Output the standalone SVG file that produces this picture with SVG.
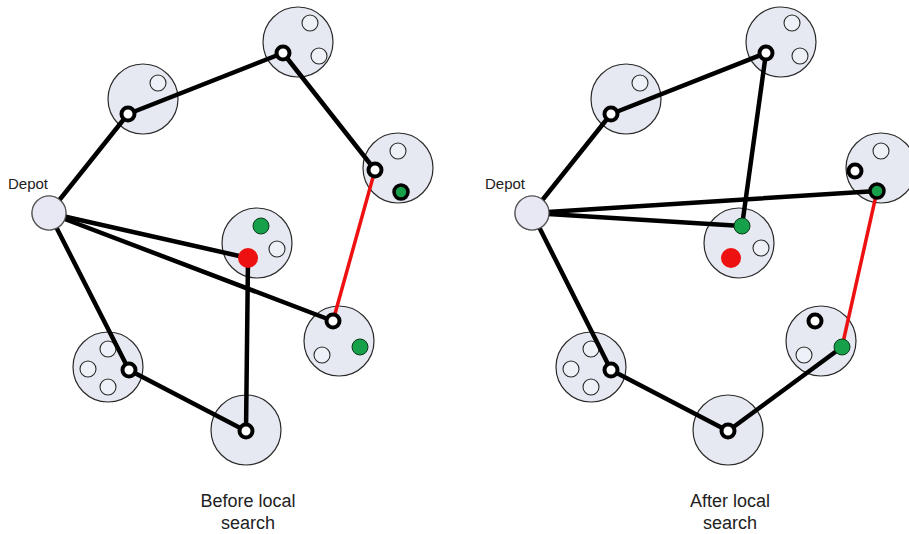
<svg xmlns="http://www.w3.org/2000/svg" width="909" height="534" viewBox="0 0 909 534">
  <style>
    .zone { fill: #e6e9f1; stroke: #2a2a2a; stroke-width: 1.2; }
    .slot { fill: #eef1f7; stroke: #2a2a2a; stroke-width: 1.1; }
    .stop { fill: #ffffff; stroke: #000000; stroke-width: 4; }
    .green { fill: #17a04a; stroke: #0b3a1c; stroke-width: 1; }
    .greenstop { fill: #17a04a; stroke: #000000; stroke-width: 3.5; }
    .red { fill: #ee1111; }
    .depot { fill: #e8e8f4; stroke: #555; stroke-width: 1.2; }
    .route { stroke: #000000; stroke-width: 4.5; stroke-linecap: round; fill: none; }
    .swap { stroke: #ee1111; stroke-width: 3.5; stroke-linecap: round; fill: none; }
    .lbl { font-family: "Liberation Sans", Arial, sans-serif; fill: #222; }
  </style>
  <rect width="909" height="534" fill="#ffffff"/>

  <!-- ===== Left panel: before local search ===== -->
  <g id="left-zones">
    <g id="L-depot"><circle class="depot" cx="49" cy="213" r="17"/><text class="lbl" x="8" y="189" font-size="15">Depot</text></g>
    <g id="L-A"><circle class="zone" cx="143" cy="99" r="35"/><circle class="slot" cx="158" cy="83" r="8"/></g>
    <g id="L-B"><circle class="zone" cx="298" cy="42" r="35"/><circle class="slot" cx="310" cy="23" r="8"/><circle class="slot" cx="319" cy="56" r="8"/></g>
    <g id="L-C"><circle class="zone" cx="398" cy="168" r="35"/><circle class="slot" cx="398" cy="151" r="8"/></g>
    <g id="L-D"><circle class="zone" cx="257" cy="243" r="35"/><circle class="slot" cx="277" cy="249" r="8"/><circle class="green" cx="261" cy="226" r="8"/></g>
    <g id="L-E"><circle class="zone" cx="339" cy="341" r="35"/><circle class="slot" cx="322" cy="355" r="8"/><circle class="green" cx="360" cy="347" r="8"/></g>
    <g id="L-F"><circle class="zone" cx="108" cy="367" r="35"/><circle class="slot" cx="108" cy="349" r="8"/><circle class="slot" cx="88" cy="369" r="8"/><circle class="slot" cx="108" cy="387" r="8"/></g>
    <g id="L-G"><circle class="zone" cx="246" cy="430" r="35"/></g>
  </g>

  <g id="left-connectors">
    <line class="route" x1="49" y1="213" x2="128" y2="114"/>
    <line class="route" x1="128" y1="114" x2="283" y2="53"/>
    <line class="route" x1="283" y1="53" x2="375" y2="170"/>
    <line class="route" x1="49" y1="213" x2="248" y2="258"/>
    <line class="route" x1="49" y1="213" x2="333" y2="321"/>
    <line class="route" x1="248" y1="258" x2="246" y2="431"/>
    <line class="route" x1="49" y1="213" x2="129" y2="370"/>
    <line class="route" x1="129" y1="370" x2="246" y2="431"/>
    <line class="swap" x1="375" y1="170" x2="333" y2="321"/>
  </g>

  <g id="left-stops">
    <circle class="depot" cx="49" cy="213" r="17"/>
    <circle class="stop" cx="128" cy="114" r="6.5"/>
    <circle class="stop" cx="283" cy="53" r="6.5"/>
    <circle class="stop" cx="375" cy="170" r="6.5"/>
    <circle class="greenstop" cx="401" cy="192" r="7"/>
    <circle class="red" cx="248" cy="258" r="10"/>
    <circle class="stop" cx="333" cy="321" r="6.5"/>
    <circle class="stop" cx="129" cy="370" r="6.5"/>
    <circle class="stop" cx="246" cy="431" r="6.5"/>
  </g>

  <g id="left-caption">
    <text class="lbl" x="248" y="507" font-size="18" text-anchor="middle">Before local</text>
    <text class="lbl" x="248" y="529" font-size="18" text-anchor="middle">search</text>
  </g>

  <!-- ===== Right panel: after local search ===== -->
  <g id="right-zones">
    <g id="R-depot"><circle class="depot" cx="532" cy="213" r="17"/><text class="lbl" x="485" y="189" font-size="15">Depot</text></g>
    <g id="R-A"><circle class="zone" cx="626" cy="99" r="35"/><circle class="slot" cx="640" cy="83" r="8"/></g>
    <g id="R-B"><circle class="zone" cx="781" cy="42" r="35"/><circle class="slot" cx="792" cy="23" r="8"/><circle class="slot" cx="800" cy="56" r="8"/></g>
    <g id="R-C"><circle class="zone" cx="881" cy="168" r="35"/><circle class="slot" cx="881" cy="151" r="8"/></g>
    <g id="R-D"><circle class="zone" cx="739" cy="243" r="35"/><circle class="slot" cx="761" cy="248" r="8"/><circle class="red" cx="731" cy="258" r="10"/></g>
    <g id="R-E"><circle class="zone" cx="821" cy="341" r="35"/><circle class="slot" cx="804" cy="355" r="8"/></g>
    <g id="R-F"><circle class="zone" cx="591" cy="367" r="35"/><circle class="slot" cx="591" cy="349" r="8"/><circle class="slot" cx="571" cy="369" r="8"/><circle class="slot" cx="591" cy="387" r="8"/></g>
    <g id="R-G"><circle class="zone" cx="728" cy="430" r="35"/></g>
  </g>

  <g id="right-connectors">
    <line class="route" x1="532" y1="213" x2="611" y2="114"/>
    <line class="route" x1="611" y1="114" x2="766" y2="53"/>
    <line class="route" x1="766" y1="53" x2="742" y2="226"/>
    <line class="route" x1="532" y1="213" x2="742" y2="226"/>
    <line class="route" x1="532" y1="213" x2="877" y2="191"/>
    <line class="route" x1="842" y1="347" x2="728" y2="431"/>
    <line class="route" x1="728" y1="431" x2="611" y2="370"/>
    <line class="route" x1="611" y1="370" x2="532" y2="213"/>
    <line class="swap" x1="877" y1="191" x2="842" y2="347"/>
  </g>

  <g id="right-stops">
    <circle class="depot" cx="532" cy="213" r="17"/>
    <circle class="stop" cx="611" cy="114" r="6.5"/>
    <circle class="stop" cx="766" cy="53" r="6.5"/>
    <circle class="stop" cx="855" cy="171" r="6.5"/>
    <circle class="greenstop" cx="877" cy="191" r="7"/>
    <circle class="green" cx="742" cy="226" r="8"/>
    <circle class="stop" cx="815" cy="321" r="6.5"/>
    <circle class="green" cx="842" cy="347" r="8"/>
    <circle class="stop" cx="611" cy="370" r="6.5"/>
    <circle class="stop" cx="728" cy="431" r="6.5"/>
  </g>

  <g id="right-caption">
    <text class="lbl" x="730" y="507" font-size="18" text-anchor="middle">After local</text>
    <text class="lbl" x="730" y="529" font-size="18" text-anchor="middle">search</text>
  </g>
</svg>
